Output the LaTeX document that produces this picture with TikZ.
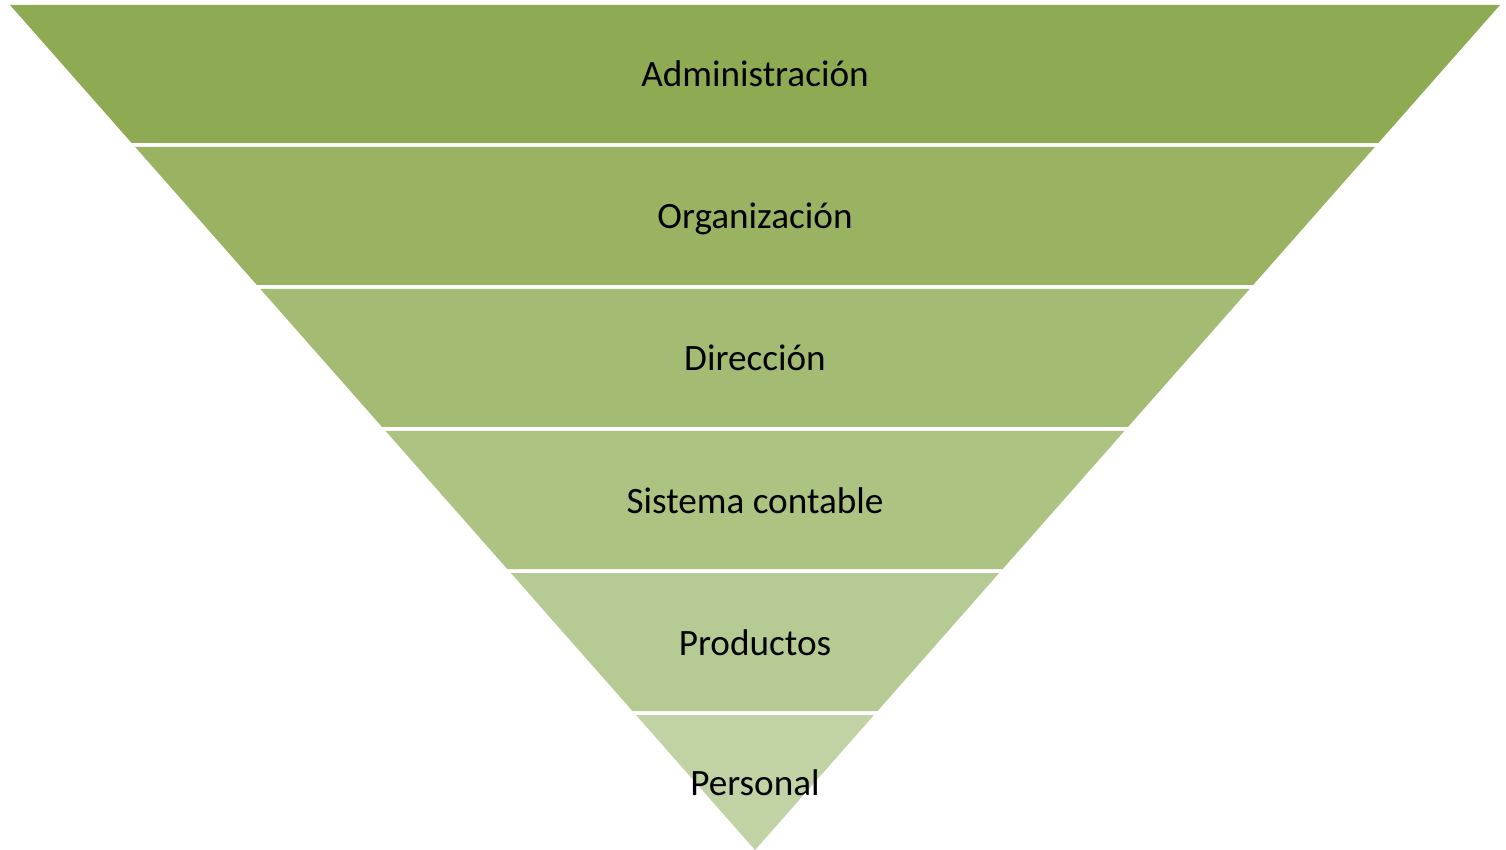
\documentclass[tikz,border=0pt]{standalone}
\usepackage{fontspec}
\setmainfont{Carlito}

\definecolor{bandA}{RGB}{142,170,82}
\definecolor{bandB}{RGB}{153,179,98}
\definecolor{bandC}{RGB}{163,187,114}
\definecolor{bandD}{RGB}{172,195,130}
\definecolor{bandE}{RGB}{182,203,148}
\definecolor{bandF}{RGB}{193,210,165}

\tikzset{
  bandlabel/.style={anchor=base, font=\fontsize{18.6}{20}\selectfont, text=black, inner sep=0pt}
}

\begin{document}
\begin{tikzpicture}[x=0.5pt,y=-0.5pt]
\useasboundingbox (0,0) rectangle (1506,850);

% bands of the funnel, apex at (755,850)
\foreach \t/\c/\lbl [count=\i] in {5/bandA/Administración,147/bandB/Organización,289/bandC/Dirección,431/bandD/Sistema contable,573/bandE/Productos,715/bandF/Personal} {
  \pgfmathsetmacro{\b}{min(\t+138,850)}
  \pgfmathsetmacro{\wt}{(850-\t)*0.88166}
  \pgfmathsetmacro{\wb}{(850-\b)*0.88166}
  \fill[\c] (755-\wt,\t) -- (755+\wt,\t) -- (755+\wb,\b) -- (755-\wb,\b) -- cycle;
  % labels
  \node[bandlabel] (band\i) at (755,{(\t+\b)/2+13}) {\lbl};
}

\end{tikzpicture}
\end{document}
